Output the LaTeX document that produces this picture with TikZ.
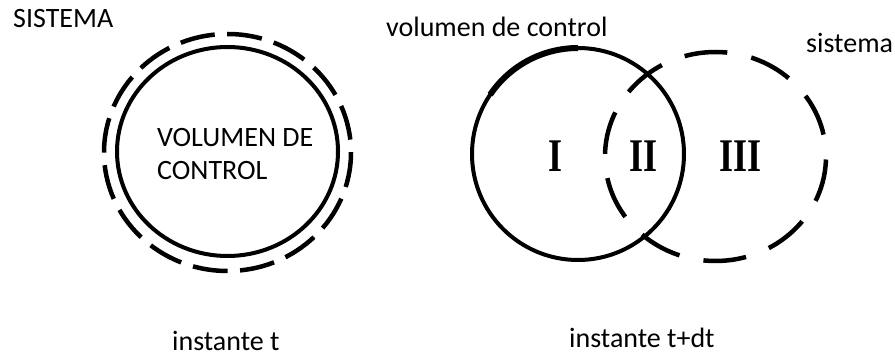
\documentclass[tikz,border=0pt]{standalone}
\usepackage{fontspec}
\setmainfont{Carlito}
\newfontfamily\numfont{Liberation Serif}
\begin{document}
\begin{tikzpicture}[x=1pt,y=-1pt,
  lbl/.style={anchor=base west, inner sep=0pt, text depth=0pt, font=\fontsize{28}{33}\selectfont},
  roman/.style={anchor=base, inner sep=0pt, font=\numfont\bfseries\fontsize{36}{40}\selectfont},
  cvol/.style={line width=4pt},
  sysleft/.style={line width=4.5pt, dash pattern=on 35pt off 12.5pt},
  sysright/.style={line width=4.5pt, dash pattern=on 43pt off 24.5pt, dash phase=-3pt}]
  \useasboundingbox (0,0) rectangle (895,358);

  % instant t: control volume and system coincide
  \node[lbl] (sisA) at (13,28) {SISTEMA};
  \draw[cvol] (227.5,151.5) ellipse [x radius=110.5, y radius=104.5];
  \draw[sysleft] (227.5,152.5) ellipse [x radius=123.5, y radius=118.5];
  \node[lbl] (vcA1) at (157,147) {VOLUMEN DE};
  \node[lbl] (vcA2) at (157,180) {CONTROL};
  \node[lbl] (tA) at (172,351) {instante t};

  % instant t+dt: the system has moved partly out of the control volume
  \node[lbl] (vcB) at (386,37) {volumen de control};
  \node[lbl] (sisB) at (806,53) {sistema};
  \draw[cvol] (578,154) circle [radius=106];
  \draw[line width=6pt] (578,154) ++(-146:106) arc[start angle=-146, end angle=-90, radius=106];
  \draw[sysright] (715.5,156.5) ellipse [x radius=110.5, y radius=104.5];
  \node[roman] (r1) at (555,172) {\scalebox{1}[1.3]{I}};
  \node[roman] (r2) at (644,172) {\scalebox{1}[1.3]{II}};
  \node[roman] (r3) at (741,172) {\scalebox{1}[1.3]{III}};
  \node[lbl] (tB) at (569,348) {instante t+dt};
\end{tikzpicture}
\end{document}
